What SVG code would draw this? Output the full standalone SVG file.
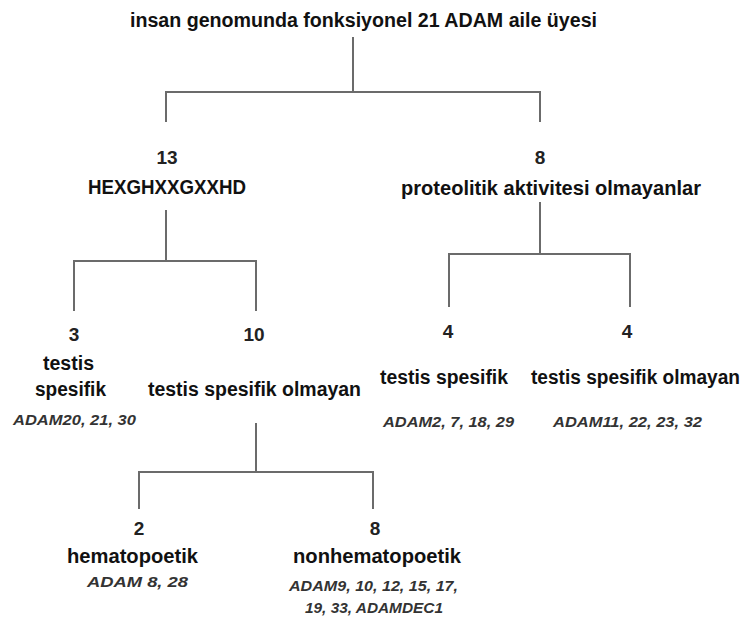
<svg xmlns="http://www.w3.org/2000/svg" width="751" height="619" viewBox="0 0 751 619">
<style>
.t{font-family:"Liberation Sans",Arial,sans-serif;font-weight:bold;font-size:20px;fill:#111}
.n{font-family:"Liberation Sans",Arial,sans-serif;font-weight:bold;font-size:19px;fill:#222;text-anchor:middle}
.i{font-family:"Liberation Sans",Arial,sans-serif;font-weight:bold;font-style:italic;font-size:14px;fill:#333}
.c{fill:none;stroke:#6b6b6b;stroke-width:2}
</style>
<rect width="751" height="619" fill="#fff"/>
<g id="connectors">
<path class="c" d="M353,37V92M166,122V92H540V122"/>
<path class="c" d="M166,210V261M74,311V261H256V311"/>
<path class="c" d="M540,202V254M449,307V254H630V307"/>
<path class="c" d="M256,423V472M139,509V472H373V509"/>
</g>
<g id="root"><text class="t" x="130" y="27" textLength="467" lengthAdjust="spacingAndGlyphs">insan genomunda fonksiyonel 21 ADAM aile üyesi</text></g>
<g id="n13">
<text class="n" x="167" y="164">13</text>
<text class="t" x="88" y="194" textLength="158" lengthAdjust="spacingAndGlyphs">HEXGHXXGXXHD</text>
</g>
<g id="n8a">
<text class="n" x="540" y="164">8</text>
<text class="t" x="401" y="195" textLength="300" lengthAdjust="spacingAndGlyphs">proteolitik aktivitesi olmayanlar</text>
</g>
<g id="n3">
<text class="n" x="74" y="341">3</text>
<text class="t" x="43" y="370" textLength="51" lengthAdjust="spacingAndGlyphs">testis</text>
<text class="t" x="35" y="396" textLength="71" lengthAdjust="spacingAndGlyphs">spesifik</text>
<text class="i" x="13" y="425" textLength="123" lengthAdjust="spacingAndGlyphs">ADAM20, 21, 30</text>
</g>
<g id="n10">
<text class="n" x="254" y="341">10</text>
<text class="t" x="148" y="396" textLength="213" lengthAdjust="spacingAndGlyphs">testis spesifik olmayan</text>
</g>
<g id="n4a">
<text class="n" x="448" y="338">4</text>
<text class="t" x="380" y="384" textLength="128" lengthAdjust="spacingAndGlyphs">testis spesifik</text>
<text class="i" x="383" y="427" textLength="131" lengthAdjust="spacingAndGlyphs">ADAM2, 7, 18, 29</text>
</g>
<g id="n4b">
<text class="n" x="627" y="338">4</text>
<text class="t" x="531" y="384" textLength="209" lengthAdjust="spacingAndGlyphs">testis spesifik olmayan</text>
<text class="i" x="553" y="427" textLength="149" lengthAdjust="spacingAndGlyphs">ADAM11, 22, 23, 32</text>
</g>
<g id="n2">
<text class="n" x="139" y="535">2</text>
<text class="t" x="67" y="563" textLength="131" lengthAdjust="spacingAndGlyphs">hematopoetik</text>
<text class="i" x="87" y="587" textLength="101" lengthAdjust="spacingAndGlyphs">ADAM 8, 28</text>
</g>
<g id="n8b">
<text class="n" x="375" y="535">8</text>
<text class="t" x="293" y="563" textLength="168" lengthAdjust="spacingAndGlyphs">nonhematopoetik</text>
<text class="i" x="289" y="591" textLength="169" lengthAdjust="spacingAndGlyphs">ADAM9, 10, 12, 15, 17,</text>
<text class="i" x="305" y="613" textLength="138" lengthAdjust="spacingAndGlyphs">19, 33, ADAMDEC1</text>
</g>
</svg>
